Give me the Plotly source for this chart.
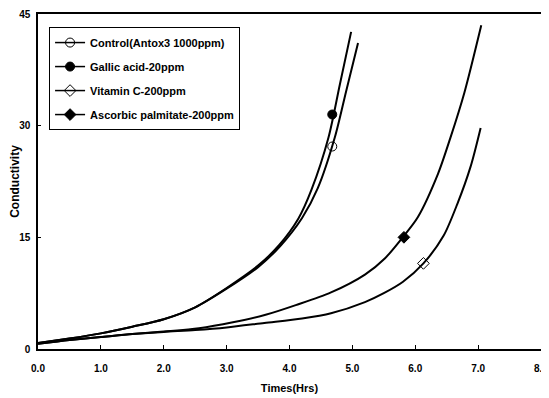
import plotly.graph_objects as go

# ---- data ----
control_x = [0, 0.5, 1.0, 1.5, 2.0, 2.5, 3.0, 3.5, 3.85, 4.2, 4.45, 4.72, 4.9, 5.09]
control_y = [0.8, 1.4, 2.1, 3.0, 4.0, 5.6, 8.1, 11.0, 13.8, 17.6, 21.6, 28.4, 34.6, 41.1]

gallic_x = [0, 0.5, 1.0, 1.5, 2.0, 2.5, 3.0, 3.5, 3.83, 4.14, 4.35, 4.62, 4.8, 4.98]
gallic_y = [0.8, 1.4, 2.1, 3.0, 4.0, 5.6, 8.2, 11.2, 13.9, 17.5, 21.4, 28.4, 35.5, 42.6]

vitc_x = [0, 0.5, 1.0, 1.5, 2.0, 2.5, 3.0, 3.6, 4.2, 4.66, 5.2, 5.5, 5.8, 6.13, 6.45, 6.67, 6.88, 7.04]
vitc_y = [0.7, 1.2, 1.6, 2.0, 2.3, 2.55, 2.9, 3.5, 4.1, 4.8, 6.3, 7.5, 9.0, 11.5, 15.2, 19.5, 24.5, 29.7]

palm_x = [0, 0.5, 1.0, 1.5, 2.0, 2.56, 3.1, 3.62, 4.1, 4.66, 5.2, 5.52, 5.8, 6.04, 6.36, 6.56, 6.78, 7.05]
palm_y = [0.7, 1.2, 1.6, 2.0, 2.35, 2.8, 3.6, 4.6, 5.9, 7.6, 10.0, 12.2, 15.0, 17.7, 23.5, 28.4, 34.4, 43.5]

series_names = ["Control(Antox3 1000ppm)", "Gallic acid-20ppm",
                "Vitamin C-200ppm", "Ascorbic palmitate-200ppm"]
series_symbols = ["circle-open", "circle", "diamond-open", "diamond"]
marker_x = [4.68, 4.68, 6.13, 5.82]
marker_y = [27.2, 31.5, 11.5, 15.0]

x_ticks = [0, 1, 2, 3, 4, 5, 6, 7, 8]
x_ticklabels = ["0.0", "1.0", "2.0", "3.0", "4.0", "5.0", "6.0", "7.0", "8.0"]
y_ticks = [0, 15, 30, 45]

FONT = "Liberation Sans Narrow, Arial Narrow, Liberation Sans, Arial, sans-serif"

fig = go.Figure()
curves = [(control_x, control_y), (gallic_x, gallic_y), (vitc_x, vitc_y), (palm_x, palm_y)]
for i, (cx, cy) in enumerate(curves):
    fig.add_trace(go.Scatter(x=cx, y=cy, mode="lines",
                             line=dict(color="black", width=2, shape="spline", smoothing=0.8),
                             showlegend=False, hoverinfo="skip", legendgroup=f"g{i}"))
    fig.add_trace(go.Scatter(x=[marker_x[i]], y=[marker_y[i]], mode="markers",
                             marker=dict(symbol=series_symbols[i], size=9, color="black",
                                         line=dict(color="black", width=1)),
                             showlegend=False, legendgroup=f"g{i}"))
    # legend entry
    fig.add_trace(go.Scatter(x=[None], y=[None], mode="lines+markers", name=series_names[i],
                             legendgroup=f"g{i}",
                             line=dict(color="black", width=1.5),
                             marker=dict(symbol=series_symbols[i], size=9, color="black",
                                         line=dict(color="black", width=1))))

# page body has an 8px margin, so the figure is 8px smaller and margins are shifted
fig.update_layout(
    width=541, height=390,
    margin=dict(l=30, r=8, t=6, b=49),
    paper_bgcolor="white", plot_bgcolor="white",
    font=dict(family=FONT, color="black", size=10),
    showlegend=True,
    legend=dict(x=0.022, y=0.961, xanchor="left", yanchor="top",
                bordercolor="black", borderwidth=1, bgcolor="white",
                font=dict(family=FONT, size=11, color="black", weight="bold"),
                tracegroupgap=5, itemwidth=30),
    xaxis=dict(range=[0, 8], tickvals=x_ticks, ticktext=x_ticklabels, automargin=False,
               showgrid=False, zeroline=False, showline=True, linecolor="black", linewidth=1.5,
               mirror=True, ticks="inside", ticklen=4, tickcolor="black",
               ticklabeloverflow="allow",
               tickfont=dict(family=FONT, size=10, weight="bold"), ticklabelstandoff=9,
               title=dict(text="Times(Hrs)", font=dict(family=FONT, size=11, weight="bold"), standoff=12)),
    yaxis=dict(range=[0, 45], tickvals=y_ticks, automargin=False,
               showgrid=False, zeroline=False, showline=True, linecolor="black", linewidth=1.5,
               mirror=True, ticks="inside", ticklen=3, tickcolor="black",
               tickfont=dict(family=FONT, size=10, weight="bold"), ticklabelstandoff=4,
               title=dict(text="Conductivity", font=dict(family=FONT, size=12, weight="bold"), standoff=0)),
)

fig.write_html("out.html")
